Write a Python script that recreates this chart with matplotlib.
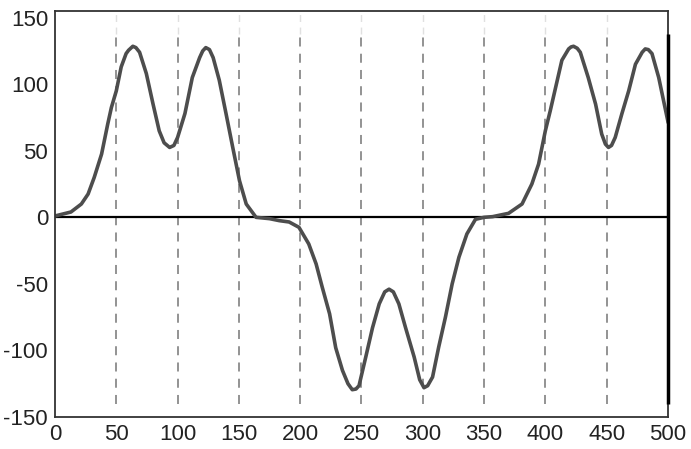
import numpy as np
import matplotlib.pyplot as plt

plt.rcParams['font.family'] = ['Liberation Sans', 'DejaVu Sans']
plt.rcParams['axes.unicode_minus'] = False

# curve
x = [0, 13, 21.5, 27, 32, 38, 43, 46, 50, 54, 58, 60, 63.5, 66, 69, 74.5, 80, 85,
     89, 93.5, 97, 100, 106, 112, 118, 120.5, 123, 126, 129, 134, 139.5, 145,
     150.5, 156, 164, 175, 183, 191, 199, 207, 213, 218, 224, 229, 234.5, 239,
     242.5, 245.5, 248, 253.5, 259, 264.5, 269, 272.5, 276, 280.5, 286, 293,
     297.5, 301, 304, 308, 313, 318.5, 324, 329.5, 336, 343, 350, 357, 370,
     381, 389, 394.5, 400, 404, 408.5, 413.5, 419, 421, 423, 426, 428.5, 435,
     441, 446, 449, 451.5, 454, 457, 462.5, 468, 473.5, 479, 481.5, 484, 487,
     492.5, 500]
y = [1, 4, 10, 17.5, 30, 47.5, 70, 82.5, 95, 113, 123, 125.5, 128.5, 127.5, 124,
     108, 85, 65, 56, 52.5, 54, 60, 78, 105, 120, 125, 127.5, 126, 120, 103,
     78, 52.5, 27.5, 10, 0, -1, -2.5, -3.5, -7.5, -20, -35, -52.5, -72.5, -98,
     -115, -125, -129.5, -129, -126.5, -105, -83, -65, -56, -54, -56, -65,
     -83, -105, -122, -128, -126.5, -120, -97.5, -75, -50, -30, -12.5, -1.5,
     0, 0.5, 3, 10, 25, 40, 65, 80, 98, 118, 126.5, 128, 128.5, 127, 124, 105,
     85, 62.5, 55, 52.5, 54, 60, 78, 95, 115, 124, 126.5, 126, 123, 105, 72]

x_ticks = [0, 50, 100, 150, 200, 250, 300, 350, 400, 450, 500]
y_ticks = [-150, -100, -50, 0, 50, 100, 150]
grid_x = [50, 100, 150, 200, 250, 300, 350, 400, 450]

fig = plt.figure(figsize=(6.91, 4.49), dpi=100)
ax = fig.add_axes([0.0796, 0.0713, 0.887, 0.9042])

# dashed vertical grid
ax.vlines(grid_x, -140, 138, colors='#8a8a8a', linestyles=(0, (5, 4)), lw=1.3)
ax.vlines(grid_x, 138, 155, colors='#e0e0e0', linestyles=(0, (5, 4)), lw=1.0)

# zero line
ax.axhline(0, color='black', lw=1.6)

# curve
ax.plot(x, y, color='#4d4d4d', lw=2.6, solid_joinstyle='round')

# thick bar at the right end
ax.vlines(500, -140, 138, colors='black', lw=2.5, clip_on=False, zorder=5)

ax.set_xlim(0, 500)
ax.set_ylim(-150, 155)
ax.set_xticks(x_ticks)
ax.set_yticks(y_ticks)
ax.tick_params(axis='both', length=0, labelsize=16, colors='#222222')
ax.tick_params(axis='x', pad=5)
ax.tick_params(axis='y', pad=5)
for s in ax.spines.values():
    s.set_color('#333333')
    s.set_linewidth(1.3)

plt.savefig('out.png', dpi=100)
